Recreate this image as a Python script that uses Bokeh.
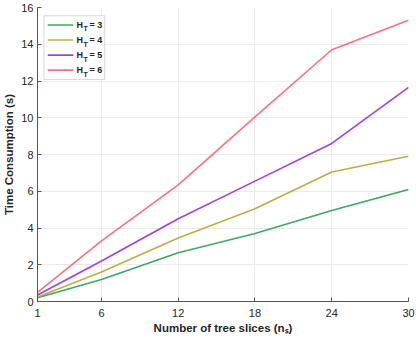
from bokeh.plotting import figure
from bokeh.models import FixedTicker, Range1d, Label, BoxAnnotation
from bokeh.embed import file_html
from bokeh.resources import INLINE

slices = [1, 6, 12, 18, 24, 30]
h3 = [0.2, 1.2, 2.65, 3.7, 4.95, 6.1]
h4 = [0.25, 1.6, 3.45, 5.05, 7.05, 7.9]
h5 = [0.35, 2.2, 4.5, 6.55, 8.6, 11.65]
h6 = [0.5, 3.3, 6.35, 10.05, 13.7, 15.3]
series_names = ["3", "4", "5", "6"]
colors = ["#3fa760", "#bcae48", "#9b40f5", "#ff6f80"]
y_ticks = [0, 2, 4, 6, 8, 10, 12, 14, 16]

FONT = "Liberation Sans"
p = figure(width=416, height=341, output_backend="svg", toolbar_location=None,
           x_range=Range1d(1, 30), y_range=Range1d(0, 16),
           min_border_left=2, min_border_right=8, min_border_top=7,
           min_border_bottom=40)
p.outline_line_color = None
p.background_fill_color = "white"

for vals, c in zip([h3, h4, h5, h6], colors):
    p.line(slices, vals, line_color=c, line_width=1.6)

for ax in (p.xaxis[0], p.yaxis[0]):
    ax.major_tick_in = 4
    ax.major_tick_out = 0
    ax.minor_tick_in = 0
    ax.minor_tick_out = 0
    ax.axis_line_color = "#555555"
    ax.major_tick_line_color = "#555555"
    ax.major_label_text_font = FONT
    ax.major_label_text_font_size = "11px"
    ax.major_label_text_color = "#262626"
    ax.axis_label_text_font = FONT
    ax.axis_label_text_font_size = "11.5px"
    ax.axis_label_text_font_style = "bold"
    ax.axis_label_text_color = "#262626"

p.xaxis.ticker = FixedTicker(ticks=slices)
p.yaxis.ticker = FixedTicker(ticks=y_ticks)
p.xaxis.major_label_standoff = 7
p.yaxis.major_label_standoff = 4
p.yaxis.axis_label = "Time Consumption (s)"
p.yaxis.axis_label_standoff = 3
p.xaxis.axis_label = "Number of tree slices (n\u209b)"
p.xaxis.axis_label_standoff = 2

p.xgrid.grid_line_color = "#ebebeb"
p.ygrid.grid_line_color = "#ebebeb"
p.xgrid.grid_line_width = 1
p.ygrid.grid_line_width = 1

# legend (manual, for subscripts)
box = BoxAnnotation(left=1.5, right=6.25, bottom=12.08, top=15.55,
                    fill_color="white", fill_alpha=1.0,
                    line_color="#808080", line_width=1, level="underlay")
p.add_layout(box)
for i, (name, c) in enumerate(zip(series_names, colors)):
    yv = 15.05 - i * 0.82
    p.line([1.8, 3.8], [yv, yv], line_color=c, line_width=1.6)
    p.add_layout(Label(x=4.05, y=yv, text="H", text_font=FONT,
                       text_font_size="9px", text_font_style="bold",
                       text_baseline="middle", text_color="#262626"))
    p.add_layout(Label(x=4.05, y=yv, x_offset=7, y_offset=-4, text="T",
                       text_font=FONT, text_font_size="7px",
                       text_font_style="bold", text_baseline="middle",
                       text_color="#262626"))
    p.add_layout(Label(x=4.05, y=yv, x_offset=13, text="= " + name,
                       text_font=FONT, text_font_size="9px",
                       text_font_style="bold", text_baseline="middle",
                       text_color="#262626"))

open("out.html", "w").write(file_html(p, INLINE))
